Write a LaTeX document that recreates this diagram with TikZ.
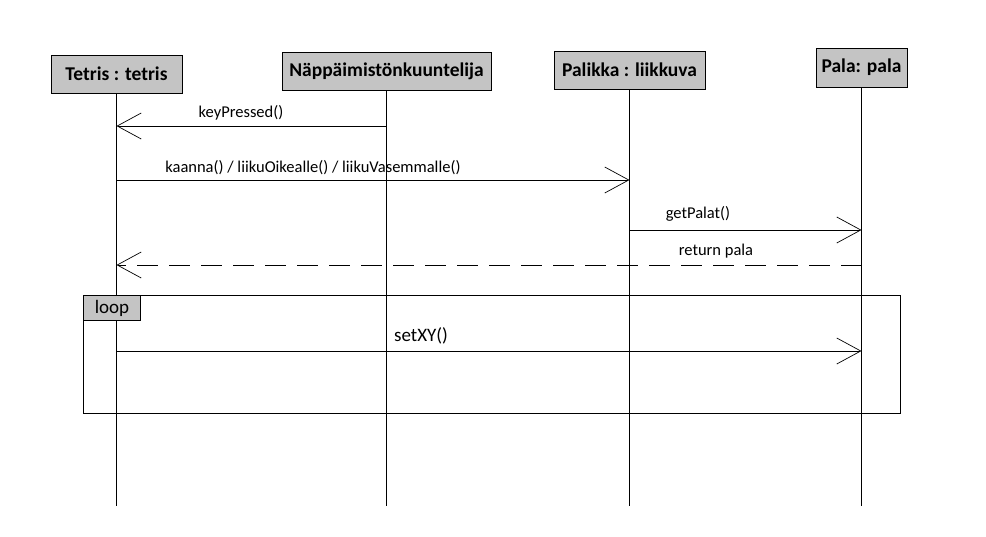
\documentclass[tikz,border=0pt]{standalone}
\usepackage{fontspec}
\setmainfont{Carlito}
\usetikzlibrary{arrows.meta}
\begin{document}
\begin{tikzpicture}[x=1pt,y=-1pt,
  objbox/.style={draw=black, fill=black!23, line width=1pt, inner sep=0pt, font=\fontsize{19.5}{22}\selectfont\bfseries},
  lifeline/.style={line width=0.9pt},
  msg/.style={line width=0.9pt, -{Straight Barb[length=24pt,width=26pt,line width=0.7pt]}},
  ret/.style={msg, dash pattern=on 21pt off 11pt},
  lbl/.style={font=\fontsize{16.5}{19}\selectfont, inner sep=0pt, anchor=base}]
\useasboundingbox (0,0) rectangle (986,536);
% objects
\node[objbox, minimum width=131pt, minimum height=38pt] (tetris) at (116.5,74) {Tetris : tetris};
\node[objbox, minimum width=209pt, minimum height=38pt] (napp) at (386.5,71) {Näppäimistönkuuntelija};
\node[objbox, minimum width=151pt, minimum height=38pt] (palikka) at (629.5,70) {Palikka : liikkuva};
\node[objbox, minimum width=91pt, minimum height=39pt] (pala) at (861.5,67.5) {Pala: pala};
% lifeline ends
\coordinate (tetrisE) at (116.5,506);
\coordinate (nappE) at (386.5,506);
\coordinate (palikkaE) at (629.5,506);
\coordinate (palaE) at (861.5,506);
% loop frame
\node[draw, line width=1pt, minimum width=817pt, minimum height=118pt, inner sep=0pt, anchor=north west] (loopframe) at (83,295) {};
\draw[lifeline] (tetris.south) -- (tetrisE);
\draw[lifeline] (napp.south) -- (nappE);
\draw[lifeline] (palikka.south) -- (palikkaE);
\draw[lifeline] (pala.south) -- (palaE);
\node[draw, fill=black!23, line width=1pt, minimum width=57pt, minimum height=25pt, inner sep=0pt, anchor=north west, font=\fontsize{19}{22}\selectfont] (looptag) at (83,295) {loop};
% message points
\coordinate (m1s) at (386.5,126); \coordinate (m1e) at (116.5,126);
\coordinate (m2s) at (116.5,180); \coordinate (m2e) at (629.5,180);
\coordinate (m3s) at (629.5,230); \coordinate (m3e) at (861.5,230);
\coordinate (m4s) at (861.5,265); \coordinate (m4e) at (116.5,265);
\coordinate (m5s) at (116.5,351); \coordinate (m5e) at (861.5,351);
\draw[msg] (m1s) -- (m1e);
\draw[msg] (m2s) -- (m2e);
\draw[msg] (m3s) -- (m3e);
\draw[ret] (m4s) -- (m4e);
\draw[msg] (m5s) -- (m5e);
\node[lbl] (l1) at (241,117) {keyPressed()};
\node[lbl] (l2) at (313,172) {kaanna() / liikuOikealle() / liikuVasemmalle()};
\node[lbl] (l3) at (698,218) {getPalat()};
\node[lbl] (l4) at (716,255) {return pala};
\node[lbl, font=\fontsize{19}{22}\selectfont] (l5) at (421,341) {setXY()};
\end{tikzpicture}
\end{document}
